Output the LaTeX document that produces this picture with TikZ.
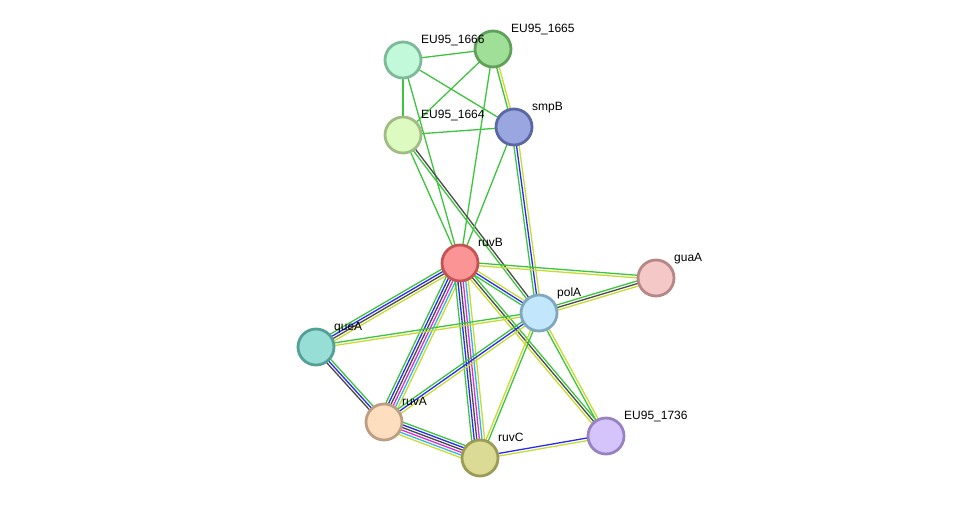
\documentclass[tikz,border=0pt]{standalone}
\usepackage{fontspec}
\setmainfont{Liberation Sans}
\usetikzlibrary{calc,backgrounds}
\definecolor{sg}{HTML}{3DC43D}
\definecolor{sb}{HTML}{2A2AF5}
\definecolor{sk}{HTML}{4A4A4A}
\definecolor{sm}{HTML}{E02AE0}
\definecolor{sc}{HTML}{2AB8E0}
\definecolor{sy}{HTML}{C6DC30}
\newcommand{\sedge}[4]{%
  \foreach \ecol [count=\i] in {#4} {
    \draw[\ecol, line width=1.3pt] let \p1=(#1.center), \p2=(#2.center),
      \n1={atan2(\y2-\y1,\x2-\x1)+90}, \n2={(\i-(#3+1)/2)*2.6} in
      ($(\p1)+(\n1:\n2 pt)$) -- ($(\p2)+(\n1:\n2 pt)$);
  }}
\tikzset{
  prot/.style={circle, line width=2.8pt, minimum size=36pt, inner sep=0pt},
  lbl/.style={anchor=base west, font=\fontsize{12}{14}\selectfont, inner sep=0pt, text=black}
}
\begin{document}
\begin{tikzpicture}[x=1pt, y=-1pt]
\useasboundingbox (0,0) rectangle (976,504);
% nodes
\node[prot, fill={rgb,255:red,193;green,249;blue,218}, draw={rgb,255:red,125;green,186;blue,152}] (n1666) at (403,60) {};
\node[prot, fill={rgb,255:red,159;green,223;blue,152}, draw={rgb,255:red,95;green,160;blue,90}] (n1665) at (493,49) {};
\node[prot, fill={rgb,255:red,153;green,166;blue,223}, draw={rgb,255:red,91;green,103;blue,162}] (smpB) at (514,127) {};
\node[prot, fill={rgb,255:red,221;green,251;blue,192}, draw={rgb,255:red,160;green,188;blue,132}] (n1664) at (403,135) {};
\node[prot, fill={rgb,255:red,251;green,148;blue,148}, draw={rgb,255:red,196;green,84;blue,84}] (ruvB) at (460,263) {};
\node[prot, fill={rgb,255:red,245;green,200;blue,200}, draw={rgb,255:red,184;green,134;blue,134}] (guaA) at (656,278) {};
\node[prot, fill={rgb,255:red,194;green,231;blue,252}, draw={rgb,255:red,127;green,168;blue,192}] (polA) at (539,313) {};
\node[prot, fill={rgb,255:red,151;green,223;blue,214}, draw={rgb,255:red,84;green,160;blue,150}] (queA) at (316,347) {};
\node[prot, fill={rgb,255:red,253;green,223;blue,192}, draw={rgb,255:red,189;green,158;blue,130}] (ruvA) at (384,422) {};
\node[prot, fill={rgb,255:red,220;green,219;blue,150}, draw={rgb,255:red,156;green,155;blue,85}] (ruvC) at (480,458) {};
\node[prot, fill={rgb,255:red,213;green,195;blue,252}, draw={rgb,255:red,151;green,131;blue,194}] (n1736) at (606,436) {};
% labels
\node[lbl] (l1666) at (421,43) {EU95\_1666};
\node[lbl] (l1665) at (511,32) {EU95\_1665};
\node[lbl] (lsmpB) at (532,110) {smpB};
\node[lbl] (l1664) at (421,118) {EU95\_1664};
\node[lbl] (lruvB) at (478,246) {ruvB};
\node[lbl] (lguaA) at (674,261) {guaA};
\node[lbl] (lpolA) at (557,296) {polA};
\node[lbl] (lqueA) at (334,330) {queA};
\node[lbl] (lruvA) at (402,405) {ruvA};
\node[lbl] (lruvC) at (498,441) {ruvC};
\node[lbl] (l1736) at (624,419) {EU95\_1736};
% edges
\begin{pgfonlayer}{background}
\sedge{n1666}{n1665}{1}{sg}
\sedge{n1666}{n1664}{1}{sg}
\sedge{n1666}{smpB}{1}{sg}
\sedge{n1666}{ruvB}{1}{sg}
\sedge{n1665}{n1664}{1}{sg}
\sedge{n1665}{smpB}{2}{sg,sy}
\sedge{n1665}{ruvB}{1}{sg}
\sedge{n1664}{smpB}{1}{sg}
\sedge{n1664}{ruvB}{1}{sg}
\sedge{n1664}{polA}{2}{sg,sk}
\sedge{smpB}{ruvB}{1}{sg}
\sedge{smpB}{polA}{3}{sg,sb,sy}
\sedge{guaA}{ruvB}{2}{sg,sy}
\sedge{ruvB}{polA}{3}{sg,sb,sy}
\sedge{ruvB}{queA}{4}{sg,sb,sk,sy}
\sedge{ruvB}{ruvA}{6}{sg,sb,sk,sm,sc,sy}
\sedge{ruvB}{ruvC}{6}{sg,sb,sk,sm,sc,sy}
\sedge{n1736}{ruvB}{3}{sg,sk,sy}
\sedge{guaA}{polA}{3}{sg,sk,sy}
\sedge{polA}{queA}{2}{sg,sy}
\sedge{polA}{ruvA}{3}{sg,sb,sy}
\sedge{ruvC}{polA}{2}{sg,sy}
\sedge{polA}{n1736}{2}{sg,sy}
\sedge{ruvA}{queA}{3}{sg,sb,sk}
\sedge{ruvC}{ruvA}{6}{sg,sb,sk,sm,sc,sy}
\sedge{n1736}{ruvC}{2}{sb,sy}
\end{pgfonlayer}
\end{tikzpicture}
\end{document}
